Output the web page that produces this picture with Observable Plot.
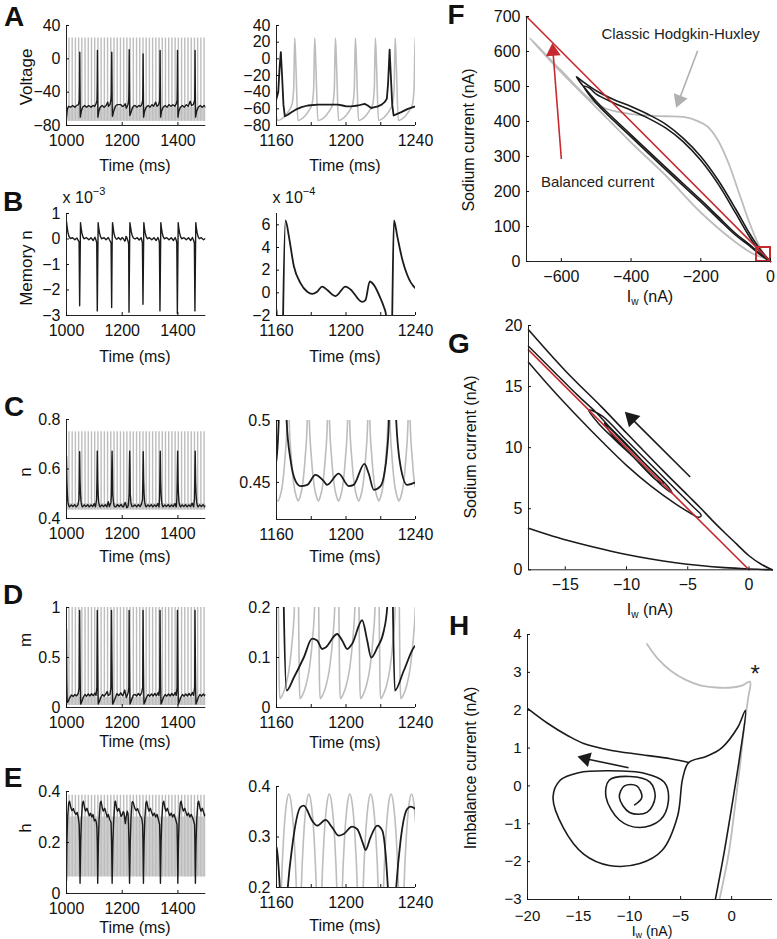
<!DOCTYPE html>
<html><head><meta charset="utf-8">
<script src="https://cdn.jsdelivr.net/npm/d3@7"></script>
<script src="https://cdn.jsdelivr.net/npm/@observablehq/plot@0.6"></script>
<style>
html,body{margin:0;padding:0;background:#fff;}
#fig{position:relative;width:777px;height:939px;overflow:hidden;font-family:"Liberation Sans",Arial,Helvetica,sans-serif;color:#111;}
.t{position:absolute;white-space:nowrap;font-size:16px;transform:translate(-50%,-50%);line-height:1;}
.r{transform:translate(-50%,-50%) rotate(-90deg);}
.L{position:absolute;font-weight:bold;font-size:28px;transform:translate(-50%,-50%);line-height:1;}
.sub{font-size:10px;position:relative;top:3px;}
.sub2{font-size:9px;position:relative;top:2px;}
.sup{font-size:11px;position:relative;top:-8px;}
</style></head><body><div id="fig">
<div class="L" style="left:14px;top:17px">A</div>
<div class="L" style="left:13px;top:202px">B</div>
<div class="L" style="left:14px;top:407px">C</div>
<div class="L" style="left:13px;top:595px">D</div>
<div class="L" style="left:13px;top:778px">E</div>
<div class="L" style="left:456px;top:15px">F</div>
<div class="L" style="left:459px;top:344px">G</div>
<div class="L" style="left:459px;top:626px">H</div>
<div class="t r" style="left:26px;top:77px;font-size:17px">Voltage</div>
<div class="t r" style="left:26px;top:268px;font-size:17px">Memory n</div>
<div class="t r" style="left:25px;top:472px;font-size:17px">n</div>
<div class="t r" style="left:25px;top:640px;font-size:17px">m</div>
<div class="t r" style="left:25px;top:828px;font-size:17px">h</div>
<div class="t" style="left:135px;top:166px">Time (ms)</div>
<div class="t" style="left:345px;top:166px">Time (ms)</div>
<div class="t" style="left:135px;top:357px">Time (ms)</div>
<div class="t" style="left:345px;top:357px">Time (ms)</div>
<div class="t" style="left:135px;top:557px">Time (ms)</div>
<div class="t" style="left:345px;top:557px">Time (ms)</div>
<div class="t" style="left:135px;top:742px">Time (ms)</div>
<div class="t" style="left:345px;top:743px">Time (ms)</div>
<div class="t" style="left:135px;top:928px">Time (ms)</div>
<div class="t" style="left:345px;top:926px">Time (ms)</div>
<div class="t" style="left:84px;top:198px">x 10<span class="sup">−3</span></div>
<div class="t" style="left:294px;top:198px">x 10<span class="sup">−4</span></div>
<div class="t r" style="left:469px;top:140px">Sodium current (nA)</div>
<div class="t r" style="left:471px;top:447px">Sodium current (nA)</div>
<div class="t r" style="left:471px;top:768px">Imbalance current (nA)</div>
<div class="t" style="left:650px;top:297px">I<span class="sub">w</span> (nA)</div>
<div class="t" style="left:650px;top:610px">I<span class="sub">w</span> (nA)</div>
<div class="t" style="left:652px;top:930.5px;font-size:14px">I<span class="sub2">w</span> (nA)</div>
</div>
<script>
// ---------------- DATA ----------------
const leftTime = [1000, 1500];
const rightTime = [1160, 1240];
const leftTimeTicks = [1000, 1200, 1400];
const rightTimeTicks = [1160, 1180, 1200, 1220, 1240];

// classic HH spike times (grey, left panels)
const greySpikes = [1008.8,1020.4,1031.9,1043.5,1055,1066.6,1078.1,1089.7,1101.2,1112.8,1124.3,1135.9,1147.4,1159,1170.5,1182,1193.6,1205.2,1216.7,1228.3,1239.8,1251.4,1262.9,1274.5,1286,1297.6,1309.1,1320.7,1332.2,1343.8,1355.3,1366.9,1378.4,1390,1401.5,1413.1,1424.6,1436.2,1447.7,1459.3,1470.8,1482.4,1493.9];
// grey bands: [low, high, dense-top]
const vBand = [-75, 25, -58];
const nBand = [0.434, 0.75, 0.46];
const mBand = [0.02, 1.0, 0.1];
const hBand = [0.065, 0.385, 0.3];

// Voltage (black)
const vBlack = [[1000,-70],[1003,-60],[1008,-57],[1015,-58],[1022,-56],[1030,-58],[1037,-56],[1043,-55],[1046,-50],[1047,-30],[1047.7,8],[1048.5,-30],[1049.5,-70],
[1053,-63],[1058,-58],[1065,-56],[1072,-58],[1080,-56],[1088,-58],[1095,-56],[1101,-57],[1106,-54],[1109.5,-50],[1110.3,-30],[1111,10],[1111.8,-30],[1112.8,-70],
[1116,-63],[1121,-58],[1128,-56],[1135,-58],[1142,-56],[1148,-52],[1151,-57],[1156,-55],[1160,-48],[1161,-40],[1161.8,-10],[1162.5,8],[1163.2,-20],[1164,-55],[1164.8,-69],[1166.5,-67],[1168.6,-64],[1171,-61],[1174.4,-58],[1178,-56],[1183.9,-55],[1189,-55],[1195.4,-55],[1198,-56],[1200.2,-57],[1203,-57],[1206.9,-56],[1210.7,-54],[1212.5,-56],[1214.5,-59],[1216.5,-58],[1218.4,-57],[1220.5,-55],[1222.2,-52],[1223.5,-48],[1224.2,-30],[1225.1,11],[1225.8,-20],[1226.6,-55],[1227.4,-68],[1229.5,-66],[1231.8,-64],[1235.6,-60],[1240,-57],
[1246,-56],[1253,-58],[1260,-56],[1266,-57],[1270,-55],[1273.5,-50],[1274.3,-30],[1275,6],[1275.8,-30],[1276.8,-70],
[1280,-63],[1286,-58],[1293,-56],[1300,-58],[1307,-55],[1313,-57],[1320,-52],[1325,-57],[1331,-55],[1334.5,-50],[1335.3,-30],[1336,10],[1336.8,-30],[1337.8,-70],
[1341,-63],[1347,-58],[1354,-56],[1361,-58],[1368,-55],[1375,-57],[1382,-55],[1389,-57],[1394,-54],[1397,-50],[1397.7,-30],[1398.4,10],[1399.2,-30],[1400.2,-70],
[1403,-63],[1409,-58],[1416,-56],[1423,-58],[1430,-55],[1437,-57],[1444,-51],[1449,-56],[1455,-55],[1460,-50],[1460.8,-30],[1461.5,10],[1462.3,-30],[1463.3,-70],
[1467,-63],[1473,-58],[1480,-56],[1487,-58],[1494,-56],[1500,-58]];
// Voltage (grey, classic HH, zoom window)
const vGrey = [[1160,-71],[1160.8,-74],[1163,-72],[1165.5,-67],[1167.5,-61],[1169,-54],[1169.9,-35],[1170.5,25],[1171.2,-10],[1172.3,-74],
[1174.5,-72],[1177,-67],[1179,-61],[1180.5,-54],[1181.4,-35],[1182,25],[1182.7,-10],[1183.8,-74],
[1186.4,-72],[1188.9,-67],[1190.9,-61],[1192.4,-54],[1193.3,-35],[1193.9,25],[1194.6,-10],[1195.7,-74],
[1197.9,-72],[1200.4,-67],[1202.4,-61],[1203.9,-54],[1204.8,-35],[1205.4,25],[1206.1,-10],[1207.2,-74],
[1209.4,-72],[1211.9,-67],[1213.9,-61],[1215.4,-54],[1216.3,-35],[1216.9,25],[1217.6,-10],[1218.7,-74],
[1220.8,-72],[1223.3,-67],[1225.3,-61],[1226.8,-54],[1227.7,-35],[1228.3,25],[1229,-10],[1230.1,-74],
[1232.3,-72],[1234.8,-67],[1236.8,-61],[1238.3,-54],[1239.2,-35],[1239.8,25],[1240,18]];

// Memory n (units of 1e-4)
const memBlack = [[1000,6.8],[1002,5],[1005,2.6],[1009,1],[1014,0.2],[1022,0.5],[1030,-0.3],[1037,0.4],[1042,-0.5],[1045.2,-1.2],[1047.2,-26.2],[1050.3,6.4],[1052.2,4.5],[1055.2,2.4],[1058.7,0.9],[1062.7,0.1],[1072,0.5],[1080,-0.3],[1088,0.5],[1096,-0.6],[1102,0.7],[1106,-0.5],
[1108.5,-1.5],[1110.5,-28.2],[1113.6,6.4],[1115.5,4.5],[1118.5,2.4],[1122,0.9],[1126,0.1],[1135,0.5],[1142,-0.3],[1150,0.6],[1156,-0.7],
[1160,-1.55],[1162.1,-26.9],[1163.8,-2.0],[1165.2,6.4],[1167.1,5.0],[1170,2.35],[1173.8,0.86],[1177.7,0.1],[1180.5,-0.1],[1183.4,0.1],[1186.3,0.55],[1189.2,0.25],[1194,-0.29],[1199.7,0.55],[1202.6,0.3],[1209.3,-0.8],[1211.2,-0.64],[1213.7,1.0],[1216,0.7],[1219.9,-0.5],[1221.8,-1.24],[1223.1,-2],[1224.4,-28.7],[1226.6,-2],[1227.6,6.4],[1229.5,5.0],[1232.4,2.95],[1235.2,1.6],[1240,0.4],[1246,0],[1254,0.5],[1261,-0.4],[1268,0.5],
[1272.5,-1.5],[1274.5,-25.6],[1277.6,6.4],[1279.5,4.5],[1282.5,2.4],[1286,0.9],[1290,0.1],[1298,0.5],[1306,-0.3],[1314,0.5],[1322,-0.6],[1328,0.6],[1332,-0.5],
[1333.5,-1.5],[1335.5,-28.2],[1338.6,6.4],[1340.5,4.5],[1343.5,2.4],[1347,0.9],[1351,0.1],[1360,0.5],[1368,-0.3],[1376,0.5],[1384,-0.6],[1390,0.6],[1394,-0.5],
[1395.9,-1.5],[1397.9,-29.2],[1401,6.4],[1402.9,4.5],[1405.9,2.4],[1409.4,0.9],[1413.4,0.1],[1422,0.5],[1430,-0.3],[1438,0.5],[1446,-0.6],[1452,0.6],[1456,-0.5],
[1459,-1.5],[1461,-28.2],[1464.1,6.4],[1466,4.5],[1469,2.4],[1472.5,0.9],[1476.5,0.1],[1484,0.5],[1492,-0.3],[1500,0.3]];

// n
const nBlack = [[1000,0.65],[1001.5,0.55],[1003,0.5],[1005,0.466],[1008,0.451],[1011,0.447],[1017,0.455],[1023,0.448],[1029,0.456],[1035,0.447],[1041,0.455],
[1044.7,0.476],[1046,0.55],[1047.2,0.67],[1048.7,0.55],[1050.2,0.5],[1052.2,0.466],[1055.2,0.451],[1058,0.447],[1064,0.455],[1070,0.448],[1076,0.456],[1082,0.447],[1088,0.455],[1094,0.448],[1100,0.46],[1104,0.447],
[1108,0.476],[1109.3,0.55],[1110.5,0.672],[1112,0.55],[1113.5,0.5],[1115.5,0.466],[1118.5,0.451],[1121,0.447],[1127,0.455],[1133,0.448],[1139,0.456],[1145,0.447],[1150,0.468],[1154,0.448],
[1159.6,0.465],[1161.3,0.5],[1162.5,0.6],[1163.6,0.672],[1164.8,0.6],[1165.8,0.5],[1168.1,0.468],[1171,0.451],[1173.8,0.447],[1177.7,0.448],[1182.4,0.456],[1187.2,0.451],[1189.1,0.448],[1195.8,0.457],[1201.6,0.447],[1204.4,0.448],[1210.6,0.465],[1213.1,0.457],[1216,0.444],[1219.9,0.447],[1221.8,0.455],[1223.7,0.476],[1224.7,0.5],[1225.7,0.6],[1226.8,0.672],[1227.9,0.6],[1228.9,0.5],[1231.4,0.463],[1235.2,0.448],[1240,0.45],[1246,0.455],[1252,0.447],[1258,0.456],[1264,0.448],[1269,0.458],
[1272.7,0.476],[1274,0.55],[1275.5,0.67],[1277,0.55],[1278.5,0.5],[1280.5,0.466],[1283.5,0.451],[1286,0.447],[1292,0.455],[1298,0.448],[1304,0.456],[1310,0.447],[1316,0.455],[1322,0.448],[1328,0.46],[1332,0.447],
[1333.7,0.476],[1335,0.55],[1336.5,0.672],[1338,0.55],[1339.5,0.5],[1341.5,0.466],[1344.5,0.451],[1347,0.447],[1353,0.455],[1359,0.448],[1365,0.456],[1371,0.447],[1377,0.455],[1383,0.448],[1389,0.46],[1394,0.447],
[1396.1,0.476],[1397.4,0.55],[1398.9,0.672],[1400.4,0.55],[1401.9,0.5],[1403.9,0.466],[1406.9,0.451],[1409.4,0.447],[1415,0.455],[1421,0.448],[1427,0.456],[1433,0.447],[1439,0.455],[1445,0.448],[1451,0.462],[1456,0.447],
[1459.2,0.476],[1460.5,0.55],[1462,0.672],[1463.5,0.55],[1465,0.5],[1467,0.466],[1470,0.451],[1472.5,0.447],[1478,0.455],[1484,0.448],[1490,0.456],[1496,0.447],[1500,0.452]];
const nGrey = [[1160,0.436],[1160.9,0.435],[1161.9,0.438],[1163.4,0.448],[1164.9,0.47],[1166.1,0.5],[1166.7,0.6],
[1167.3,0.5],[1168.5,0.47],[1170,0.448],[1171.5,0.438],[1172.5,0.435],[1173.5,0.438],[1175,0.448],[1176.5,0.47],[1177.7,0.5],[1178.3,0.6],
[1178.9,0.5],[1180.1,0.47],[1181.6,0.448],[1183.1,0.438],[1184.1,0.435],[1185.1,0.438],[1186.6,0.448],[1188.1,0.47],[1189.3,0.5],[1189.9,0.6],
[1190.5,0.5],[1191.7,0.47],[1193.2,0.448],[1194.7,0.438],[1195.7,0.435],[1196.7,0.438],[1198.2,0.448],[1199.7,0.47],[1200.9,0.5],[1201.5,0.6],
[1202.1,0.5],[1203.3,0.47],[1204.8,0.448],[1206.3,0.438],[1207.3,0.435],[1208.3,0.438],[1209.8,0.448],[1211.3,0.47],[1212.5,0.5],[1213.1,0.6],
[1213.7,0.5],[1214.9,0.47],[1216.4,0.448],[1217.9,0.438],[1218.9,0.435],[1219.9,0.438],[1221.4,0.448],[1222.9,0.47],[1224.1,0.5],[1224.7,0.6],
[1225.3,0.5],[1226.5,0.47],[1228,0.448],[1229.5,0.438],[1230.5,0.435],[1231.5,0.438],[1233,0.448],[1234.5,0.47],[1235.7,0.5],[1236.3,0.6],
[1236.9,0.5],[1238.1,0.47],[1239.6,0.448],[1240,0.446]];

// m
const mBlack = [[1000,0.78],[1001,0.3],[1002.5,0.05],[1006,0.06],[1012,0.1],[1018,0.125],[1024,0.11],[1030,0.13],[1036,0.115],[1042,0.14],[1045.5,0.2],[1047.2,0.97],[1048.5,0.5],[1049.5,0.2],[1050.8,0.034],[1055,0.06],[1060,0.1],[1066,0.13],[1072,0.113],[1078,0.135],[1084,0.115],[1090,0.138],[1096,0.117],[1102,0.145],[1106,0.12],
[1109,0.2],[1110.5,0.97],[1111.8,0.5],[1112.8,0.2],[1114,0.034],[1118,0.06],[1123,0.1],[1129,0.13],[1135,0.113],[1141,0.135],[1146,0.16],[1150,0.12],[1156,0.13],
[1159.5,0.2],[1161.5,0.97],[1163,0.5],[1164.2,0.2],[1165.8,0.034],[1170,0.06],[1175.7,0.1],[1180.5,0.1376],[1183.4,0.134],[1186.3,0.117],[1188.2,0.12],[1194.9,0.147],[1197.8,0.134],[1200.7,0.117],[1203.6,0.1275],[1209.3,0.1745],[1212.2,0.134],[1214.5,0.1],[1218,0.12],[1221.8,0.154],[1223.7,0.2],[1224.8,0.97],[1226,0.5],[1227,0.2],[1228.1,0.034],[1233.3,0.074],[1240,0.124],[1246,0.13],[1252,0.115],[1258,0.14],[1264,0.118],[1270,0.15],
[1273.5,0.2],[1274.8,0.97],[1276,0.5],[1277,0.2],[1278.2,0.034],[1282,0.06],[1287,0.1],[1293,0.13],[1299,0.113],[1305,0.135],[1311,0.115],[1317,0.14],[1323,0.117],[1329,0.15],[1332,0.12],
[1334.5,0.2],[1335.8,0.97],[1337,0.5],[1338,0.2],[1339.2,0.034],[1343,0.06],[1348,0.1],[1354,0.13],[1360,0.113],[1366,0.135],[1372,0.115],[1378,0.14],[1384,0.117],[1390,0.15],[1394,0.12],
[1396.9,0.2],[1398.2,0.97],[1399.4,0.5],[1400.4,0.2],[1401.6,0.034],[1405,0.06],[1410,0.1],[1416,0.13],[1422,0.113],[1428,0.135],[1434,0.115],[1440,0.14],[1446,0.117],[1452,0.15],[1456,0.12],
[1460,0.2],[1461.3,0.97],[1462.5,0.5],[1463.5,0.2],[1464.7,0.034],[1468,0.06],[1473,0.1],[1479,0.13],[1485,0.113],[1491,0.135],[1496,0.118],[1500,0.13]];
const mGrey = [[1160,0.3],[1161.1,0.2],[1161.5,0.06],[1161.9,0.018],[1163.4,0.025],[1165.4,0.045],[1167.4,0.08],[1169.2,0.14],[1170.3,0.2],[1171.2,0.4],[1172,0.4],[1172.7,0.2],[1173.1,0.06],
[1173.5,0.018],[1175,0.025],[1177,0.045],[1179,0.08],[1180.8,0.14],[1181.9,0.2],[1182.8,0.4],[1183.6,0.4],[1184.3,0.2],[1184.7,0.06],
[1185.1,0.018],[1186.6,0.025],[1188.6,0.045],[1190.6,0.08],[1192.4,0.14],[1193.5,0.2],[1194.4,0.4],[1195.2,0.4],[1195.9,0.2],[1196.3,0.06],
[1196.7,0.018],[1198.2,0.025],[1200.2,0.045],[1202.2,0.08],[1204,0.14],[1205.1,0.2],[1206,0.4],[1206.8,0.4],[1207.5,0.2],[1207.9,0.06],
[1208.3,0.018],[1209.8,0.025],[1211.8,0.045],[1213.8,0.08],[1215.6,0.14],[1216.7,0.2],[1217.6,0.4],[1218.4,0.4],[1219.1,0.2],[1219.5,0.06],
[1219.9,0.018],[1221.4,0.025],[1223.4,0.045],[1225.4,0.08],[1227.2,0.14],[1228.3,0.2],[1229.2,0.4],[1230,0.4],[1230.7,0.2],[1231.1,0.06],
[1231.5,0.018],[1233,0.025],[1235,0.045],[1237,0.08],[1238.8,0.14],[1239.9,0.2],[1240,0.22]];

// h
const hBlack = [[1000,0.05],[1001.5,0.2],[1004,0.3],[1008,0.355],[1011,0.362],[1016,0.335],[1020,0.325],[1025,0.333],[1029,0.318],[1034,0.31],[1038,0.318],[1042,0.3],
[1045.5,0.27],[1047,0.2],[1048.7,0.04],[1051,0.2],[1053.5,0.29],[1057.5,0.355],[1060.5,0.362],[1065.5,0.333],[1068.5,0.323],[1073.5,0.334],[1077.5,0.32],[1082,0.305],[1086,0.315],[1091,0.3],[1095,0.31],[1100,0.285],[1104,0.29],[1107,0.28],
[1109,0.26],[1110.4,0.2],[1112,0.04],[1114.5,0.2],[1117,0.29],[1121,0.355],[1124,0.362],[1129,0.333],[1132,0.323],[1137,0.334],[1141,0.32],[1146,0.3],[1150,0.31],[1155,0.29],
[1160,0.2795],[1161.9,0.2],[1163.8,0.04],[1166.5,0.2],[1169,0.28],[1173.8,0.359],[1175.7,0.362],[1180.5,0.3325],[1183.4,0.3225],[1188.2,0.3338],[1192,0.3192],[1195.8,0.3026],[1198.7,0.306],[1203.5,0.3205],[1206.4,0.3159],[1210.2,0.2828],[1211.2,0.2742],[1214.1,0.2993],[1218,0.3225],[1220.9,0.3126],[1222.8,0.2662],[1224.1,0.2],[1226.3,0.04],[1228.9,0.2],[1231.4,0.2927],[1235.2,0.3556],[1237.2,0.3603],[1240,0.3556],[1245,0.335],[1250,0.325],[1255,0.333],[1260,0.318],[1265,0.305],[1270,0.295],
[1273.3,0.27],[1274.5,0.2],[1276.2,0.04],[1278.5,0.2],[1281,0.29],[1285,0.355],[1288,0.362],[1293,0.333],[1296,0.323],[1301,0.334],[1305,0.32],[1310,0.305],[1315,0.315],[1320,0.3],[1325,0.31],[1330,0.29],
[1334.3,0.27],[1335.5,0.2],[1337.2,0.04],[1339.5,0.2],[1342,0.29],[1346,0.355],[1349,0.362],[1354,0.333],[1357,0.323],[1362,0.334],[1366,0.32],[1371,0.305],[1376,0.315],[1381,0.3],[1386,0.31],[1392,0.29],
[1396.7,0.27],[1397.9,0.2],[1399.6,0.04],[1401.9,0.2],[1404.4,0.29],[1408.4,0.355],[1411.4,0.362],[1416.4,0.333],[1419.4,0.323],[1424.4,0.334],[1428.4,0.32],[1433,0.305],[1438,0.315],[1443,0.3],[1448,0.31],[1455,0.29],
[1459.8,0.27],[1461,0.2],[1462.7,0.04],[1465,0.2],[1467.5,0.29],[1471.5,0.355],[1474.5,0.362],[1479.5,0.333],[1482.5,0.323],[1487.5,0.334],[1491.5,0.32],[1496,0.305],[1500,0.31]];
const hGrey = [[1160,0.06],[1161.9,0.07],[1162.8,0.2],[1164.1,0.3],[1165.5,0.36],[1167.1,0.385],[1168.7,0.36],[1170.1,0.3],[1171.4,0.2],[1172.3,0.07],[1173.4,0.07],
[1174.3,0.2],[1175.6,0.3],[1177,0.36],[1178.6,0.385],[1180.2,0.36],[1181.6,0.3],[1182.9,0.2],[1183.8,0.07],[1185.2,0.07],
[1186.1,0.2],[1187.4,0.3],[1188.8,0.36],[1190.4,0.385],[1192,0.36],[1193.4,0.3],[1194.7,0.2],[1195.6,0.07],[1197,0.07],
[1197.9,0.2],[1199.2,0.3],[1200.6,0.36],[1202.2,0.385],[1203.8,0.36],[1205.2,0.3],[1206.5,0.2],[1207.4,0.07],[1209,0.07],
[1209.9,0.2],[1211.2,0.3],[1212.6,0.36],[1214.2,0.385],[1215.8,0.36],[1217.2,0.3],[1218.5,0.2],[1219.4,0.07],[1220.7,0.07],
[1221.6,0.2],[1222.9,0.3],[1224.3,0.36],[1225.9,0.385],[1227.5,0.36],[1228.9,0.3],[1230.2,0.2],[1231.1,0.07],[1232.5,0.07],
[1233.4,0.2],[1234.7,0.3],[1236.1,0.36],[1237.7,0.385],[1239.3,0.36],[1240,0.33]];

// F: sodium vs Iw
const fBalanced = [[-700,700],[0,0]];
const fClassic = [[0,0],[-15,8],[-50,22],[-100,55],[-200,140],[-300,245],[-400,340],[-500,440],[-600,540],[-690,638],[-600,545],[-520,465],[-480,440],[-440,428],[-400,421],[-350,417],[-300,415],[-250,413],[-210,402],[-180,385],[-150,345],[-120,280],[-90,195],[-60,110],[-35,50],[-15,15],[0,0]];
const fLoop1 = [[0,0],[-30,22],[-60,48],[-100,80],[-150,128],[-200,176],[-300,268],[-400,362],[-500,458],[-557,528],[-540,515],[-500,488],[-450,463],[-400,443],[-350,420],[-300,392],[-250,352],[-200,300],[-150,232],[-100,150],[-60,80],[-30,35],[0,0]];
const fLoop2 = [[0,0],[-30,20],[-60,45],[-100,75],[-150,122],[-200,170],[-300,262],[-400,356],[-500,452],[-535,500],[-520,496],[-500,478],[-450,453],[-400,432],[-350,409],[-300,381],[-250,342],[-200,289],[-150,221],[-100,138],[-60,70],[-30,28],[0,0]];
const fBox = [[-40, 0, 0, 40]];
const fArrowGrey = [[-209, 602, -262, 462]];
const fArrowRed = [[-600, 293, -624, 600]];
const fNotes = [[-258, 650, "Classic Hodgkin-Huxley"], [-496, 228, "Balanced current"]];

// G: zoom near origin
const gBalanced = [[-18,18],[0,0]];
const gLower = [[-18,3.4],[-16,2.75],[-14,2.2],[-12,1.7],[-10,1.25],[-8,0.88],[-6,0.58],[-4,0.35],[-2,0.18],[0,0.07],[1,0.03],[1.9,0]];
const gUpper = [[-18,19.65],[-15,16.3],[-12,13.3],[-10,11.2],[-7,8.1],[-5,6.1],[-4,5.1],[-3,4.05],[-2,3.05],[-1,2.1],[0,1.15],[1,0.45],[1.9,0]];
const gSpiral = [[-18,17.0],[-16,14.7],[-14,12.55],[-12,10.5],[-10,8.55],[-8,6.85],[-6,5.4],[-4.8,4.65],[-4.1,4.3],[-3.9,4.45],[-4.6,5.2],[-6,6.6],[-8,8.6],[-10,10.6],[-12,12.6],[-13.1,13.1],[-12.3,12.0],[-11,10.7],[-9,8.8],[-7,6.8],[-6.3,6.3],[-6.6,6.8],[-8,8.2],[-10,10.2],[-11.8,12.0],[-11.2,11.1],[-9.5,9.3],[-7.5,7.3],[-7,7.1],[-8.5,8.7],[-10.5,10.8],[-11.3,11.6],[-12.5,12.9],[-14,14.3],[-16,16.3],[-18,18.3]];
const gArrow = [[-4.8, 7.6, -9.6, 12.4]];

// H: imbalance current vs Iw
const hClassicTraj = [[-8.3,3.75],[-7.2,3.35],[-6,3.05],[-4.5,2.8],[-3,2.65],[-1.5,2.6],[0,2.6],[1,2.65],[1.8,2.75],[1.6,2.3],[1.2,1.5],[0.8,0.5],[0.3,-0.6],[-0.3,-1.8],[-1.2,-3]];
const hTraj = [[-1.6,-3],[-0.7,-1.7],[0.1,-0.4],[0.8,0.8],[1.35,2.0],[0.6,1.55],[-1,1.0],[-2.5,0.78],[-4.2,0.62],[-4.8,0.2],[-5.3,-0.8],[-6.8,-1.7],[-9,-2.05],[-12,-2.1],[-14.5,-1.8],[-16.5,-1.1],[-17.5,-0.3],[-16.8,0.15],[-15,0.35],[-12,0.4],[-8.5,0.33],[-6.6,0.1],[-6.2,-0.4],[-7,-0.9],[-9,-1.1],[-11,-0.9],[-12.3,-0.3],[-12,0.15],[-10,0.25],[-8,0.1],[-7.5,-0.3],[-8.3,-0.7],[-10,-0.7],[-11,-0.3],[-10.5,0.0],[-9.3,0.0],[-8.8,-0.3],[-9.5,-0.5]];
const hExit = [[-4.2,0.62],[-6,0.72],[-9,0.83],[-12,0.95],[-14.5,1.12],[-16,1.32],[-18,1.65],[-20,2.05]];
const hArrow = [[-10.1, 0.48, -14.3, 0.72]];
const hStar = [[2.3, 2.95]];

// ---------------- DRAWING ----------------
const FONT = '"Liberation Sans", Arial, Helvetica, sans-serif';
const BLACK = "#1b1b1b", GREY = "#bdbdbd", GREYL = "#cfcfcf", RED = "#c62a2f", AX = "#222";
const fmt = d => (d < 0 ? "\u2212" : "") + Math.abs(d);
const X = d => d[0], Y = d => d[1];
const fig = document.getElementById("fig");

function panel(cfg) {
  const mL = 70, mR = 18, mT = 14, mB = 40;
  const fs = cfg.fs || 16;
  const w = cfg.frame[2] - cfg.frame[0], h = cfg.frame[3] - cfg.frame[1];
  const svg = Plot.plot({
    width: w + mL + mR, height: h + mT + mB,
    marginLeft: mL, marginRight: mR, marginTop: mT, marginBottom: mB,
    style: {fontFamily: FONT, fontSize: fs + "px", background: "none", overflow: "visible", color: "#111"},
    x: {domain: cfg.x},
    y: {domain: cfg.y},
    marks: [
      ...cfg.marks,
      Plot.ruleX([cfg.x[0]], {stroke: AX, strokeWidth: 1}),
      Plot.ruleY([cfg.y[0]], {stroke: AX, strokeWidth: 1}),
      Plot.axisX({ticks: cfg.xt, tickSize: -3, tickPadding: cfg.xpad || 12, tickFormat: cfg.xf || fmt, label: null, fontSize: fs}),
      Plot.axisY({ticks: cfg.yt, tickSize: -3, tickPadding: 9, tickFormat: cfg.yf || fmt, label: null, fontSize: fs})
    ]
  });
  svg.style.position = "absolute";
  svg.style.left = (cfg.frame[0] - mL) + "px";
  svg.style.top = (cfg.frame[1] - mT) + "px";
  fig.appendChild(svg);
}

const rightFmt = d => (d % 40 === 0 ? fmt(d) : "");

function stripes(band) {
  return [
    Plot.rectY([band], {x1: () => leftTime[0], x2: () => leftTime[1], y1: d => d[0], y2: d => d[2], fill: GREYL}),
    Plot.ruleX(greySpikes, {x: d => d, y1: band[0], y2: band[1], stroke: GREY, strokeWidth: 1.4})
  ];
}
const blk = (data, w) => Plot.line(data, {x: X, y: Y, stroke: BLACK, strokeWidth: w, clip: true});
const gry = (data) => Plot.line(data, {x: X, y: Y, stroke: GREY, strokeWidth: 1.6, clip: true, curve: "monotone-x"});

const LX0 = 65.7, LX1 = 205, RX0 = 275.5, RX1 = 414.5;

// A
panel({frame: [LX0, 25, LX1, 125], x: leftTime, y: [-80, 40], xt: leftTimeTicks, yt: [-80, -40, 0, 40],
  marks: [...stripes(vBand), blk(vBlack, 1.4)]});
panel({frame: [RX0, 25, RX1, 125], x: rightTime, y: [-80, 40], xt: rightTimeTicks, xf: rightFmt, yt: [-80, -60, -40, -20, 0, 20, 40],
  marks: [gry(vGrey), blk(vBlack, 1.8)]});
// B
panel({frame: [LX0, 213, LX1, 315], x: leftTime, y: [-30, 10], xt: leftTimeTicks, yt: [-30, -20, -10, 0, 10], yf: d => fmt(d / 10),
  marks: [blk(memBlack, 1.4)]});
panel({frame: [RX0, 213, RX1, 315], x: rightTime, y: [-2, 7], xt: rightTimeTicks, xf: rightFmt, yt: [-2, 0, 2, 4, 6],
  marks: [Plot.line(memBlack, {x: X, y: Y, stroke: BLACK, strokeWidth: 1.8, clip: true, curve: "monotone-x"})]});
// C
panel({frame: [LX0, 419, LX1, 518], x: leftTime, y: [0.4, 0.8], xt: leftTimeTicks, yt: [0.4, 0.6, 0.8],
  marks: [...stripes(nBand), blk(nBlack, 1.4)]});
panel({frame: [RX0, 420, RX1, 519], x: rightTime, y: [0.42, 0.5], xt: rightTimeTicks, xf: rightFmt, yt: [0.45, 0.5],
  marks: [gry(nGrey), Plot.line(nBlack, {x: X, y: Y, stroke: BLACK, strokeWidth: 1.8, clip: true, curve: "monotone-x"})]});
// D
panel({frame: [LX0, 607, LX1, 707], x: leftTime, y: [0, 1], xt: leftTimeTicks, yt: [0, 0.5, 1],
  marks: [...stripes(mBand), blk(mBlack, 1.4)]});
panel({frame: [RX0, 607, RX1, 707], x: rightTime, y: [0, 0.2], xt: rightTimeTicks, xf: rightFmt, yt: [0, 0.1, 0.2],
  marks: [gry(mGrey), Plot.line(mBlack, {x: X, y: Y, stroke: BLACK, strokeWidth: 1.8, clip: true, curve: "monotone-x"})]});
// E
panel({frame: [LX0, 791, LX1, 893], x: leftTime, y: [0, 0.4], xt: leftTimeTicks, yt: [0, 0.2, 0.4],
  marks: [...stripes(hBand), blk(hBlack, 1.4)]});
panel({frame: [RX0, 786, RX1, 887], x: rightTime, y: [0.2, 0.4], xt: rightTimeTicks, xf: rightFmt, yt: [0.2, 0.3, 0.4],
  marks: [gry(hGrey), Plot.line(hBlack, {x: X, y: Y, stroke: BLACK, strokeWidth: 1.8, clip: true, curve: "monotone-x"})]});

const smooth = (data, stroke, w) => Plot.line(data, {x: X, y: Y, stroke, strokeWidth: w, curve: "catmull-rom"});
function arrowMarks(arr, color, w, r, rot) {
  return [
    Plot.link(arr, {x1: d => d[0], y1: d => d[1], x2: d => d[2], y2: d => d[3], stroke: color, strokeWidth: w}),
    Plot.dot(arr, {x: d => d[2], y: d => d[3], symbol: "triangle", r, fill: color, stroke: "none", rotate: rot})
  ];
}

// F
panel({frame: [526, 15.7, 770, 260.7], x: [-700, 0], y: [0, 700], xt: [-600, -400, -200, 0], yt: [0, 100, 200, 300, 400, 500, 600, 700],
  marks: [
    smooth(fClassic, GREY, 1.8),
    smooth(fLoop1, BLACK, 1.6), smooth(fLoop2, BLACK, 1.6),
    Plot.line(fBalanced, {x: X, y: Y, stroke: RED, strokeWidth: 1.6}),
    Plot.rect(fBox, {x1: d => d[0], x2: d => d[1], y1: d => d[2], y2: d => d[3], stroke: RED, strokeWidth: 2, fill: "none"}),
    ...arrowMarks(fArrowGrey, "#b0b0b0", 1.6, 5.5, -159),
    ...arrowMarks(fArrowRed, RED, 1.6, 5.5, -4.5),
    Plot.text(fNotes, {x: d => d[0], y: d => d[1], text: d => d[2], fontSize: 15, fill: "#222"})
  ]});
// G
panel({frame: [527.7, 325, 772.7, 569.3], x: [-18, 2], y: [0, 20], xt: [-15, -10, -5, 0], yt: [0, 5, 10, 15, 20],
  marks: [
    smooth(gLower, BLACK, 1.6), smooth(gUpper, BLACK, 1.6), smooth(gSpiral, BLACK, 1.5),
    Plot.line(gBalanced, {x: X, y: Y, stroke: RED, strokeWidth: 1.6}),
    ...arrowMarks(gArrow, BLACK, 1.6, 6, -45)
  ]});
// H
panel({frame: [527, 634, 772, 899], x: [-20, 4], y: [-3, 4], xt: [-20, -15, -10, -5, 0], yt: [-3, -2, -1, 0, 1, 2, 3, 4], xpad: 14, fs: 15,
  marks: [
    Plot.line(hClassicTraj, {x: X, y: Y, stroke: GREY, strokeWidth: 1.8, curve: "catmull-rom", clip: true}),
    Plot.line(hTraj, {x: X, y: Y, stroke: BLACK, strokeWidth: 1.6, curve: "catmull-rom", clip: true}),
    Plot.line(hExit, {x: X, y: Y, stroke: BLACK, strokeWidth: 1.6, curve: "catmull-rom", clip: true}),
    ...arrowMarks(hArrow, BLACK, 1.6, 5.5, -75),
    Plot.text(hStar, {x: X, y: Y, text: () => "*", fontSize: 24, fill: "#222"})
  ]});
</script></body></html>
